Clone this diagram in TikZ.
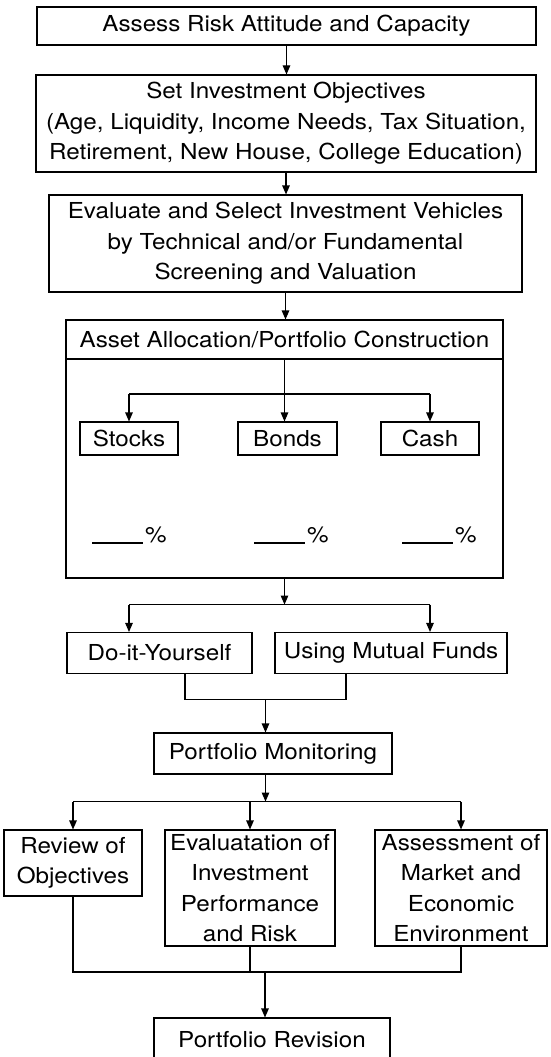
\documentclass[tikz,border=0pt]{standalone}
\usepackage{fontspec}
\setmainfont{TeX Gyre Heros}[FakeStretch=1.1]
\usetikzlibrary{arrows.meta}
\tikzset{>={Triangle[length=9pt,width=7.5pt]}}

\begin{document}
\begin{tikzpicture}[x=1pt,y=-1pt,
		box/.style = {draw, line width=1.1pt, inner sep=0pt, align=center,
			font=\fontsize{22}{30.5}\selectfont},
		link/.style = {line width=1.1pt}
	]
	\useasboundingbox (0,0) rectangle (550,1057);
	% planning steps
	\node[box, minimum width=499pt, minimum height=38pt] (risk) at (286.5,26) {Assess Risk Attitude and Capacity};
	\node[box, minimum width=500pt, minimum height=97pt] (goals) at (286,123.5)
		{Set Investment Objectives\\(Age, Liquidity, Income Needs, Tax Situation,\\Retirement, New House, College Education)};
	\node[box, minimum width=473pt, minimum height=97pt] (select) at (285.5,243.5)
		{Evaluate and Select Investment Vehicles\\by Technical and/or Fundamental\\Screening and Valuation};
	\draw[link,->] (risk.south) -- (risk.south |- goals.north);
	\draw[link,->] (goals.south) -- (goals.south |- select.north);
	% allocation
	\node[box, minimum width=437pt, minimum height=39pt] (alloc) at (284.5,339.5) {Asset Allocation/Portfolio Construction};
	\node[box, minimum width=437pt, minimum height=219pt] (allocbody) at (284.5,468.5) {};
	\draw[link,->] (select.south) -- (select.south |- alloc.north);
	\node[box, minimum width=98pt, minimum height=33pt] (stocks) at (129,438.5) {Stocks};
	\node[box, minimum width=99pt, minimum height=33pt] (bonds) at (287.5,438.5) {Bonds};
	\node[box, minimum width=98pt, minimum height=33pt] (cash) at (430,438.5) {Cash};
	\draw[link,->] (alloc.south) -- (alloc.south |- bonds.north);
	\coordinate (split1) at (284.5,394);
	\draw[link] (split1 -| stocks) -- (split1 -| cash);
	\foreach \n in {stocks,cash}
		\draw[link,->] (split1 -| \n) -- (\n.north);
	\foreach \x/\n in {92/a,254/b,402/c}
	{
		\draw[link] (\x,543) -- ++(51,0);
		\node[anchor=base west, inner sep=0pt, font=\fontsize{22}{25}\selectfont] (pct\n) at (\x+53,542) {\%};
	};
	% way of investing
	\node[box, minimum width=185pt, minimum height=41pt] (diy) at (159.5,653) {Do-it-Yourself};
	\node[box, minimum width=232pt, minimum height=41pt] (funds) at (391,653) {Using Mutual Funds};
	\draw[link,->] (allocbody.south) -- ++(0,26) coordinate (split2);
	\draw[link] (split2 -| stocks) -- (split2 -| cash);
	\draw[link,->] (split2 -| stocks) -- (diy.north -| stocks);
	\draw[link,->] (split2 -| cash) -- (funds.north -| cash);
	% monitoring
	\node[box, minimum width=238pt, minimum height=41pt] (monitor) at (273,753.5) {Portfolio Monitoring};
	\draw[link] ([xshift=25.5pt]diy.south) -- ++(0,25) -| coordinate[pos=0.25] (join1) ([xshift=-45pt]funds.south);
	\draw[link,->] (join1) -- (join1 |- monitor.north);
	\node[box, minimum width=138pt, minimum height=66pt] (review) at (73,863) {Review of\\Objectives};
	\node[box, minimum width=170pt, minimum height=116pt] (perf) at (250,888) {Evaluatation of\\Investment\\Performance\\and Risk};
	\node[box, minimum width=172pt, minimum height=116pt] (market) at (461,888) {Assessment of\\Market and\\Economic\\Environment};
	\draw[link,->] (join1 |- monitor.south) -- ++(0,27) coordinate (split3);
	\draw[link] (split3 -| review) -- (split3 -| market);
	\foreach \n in {review,perf,market}
		\draw[link,->] (split3 -| \n) -- (\n.north);
	% revision
	\node[box, minimum width=236pt, minimum height=44pt] (revise) at (272,1040) {Portfolio Revision};
	\coordinate (merge) at (265,972);
	\draw[link] (review.south) |- (merge -| market.south) -- (market.south);
	\draw[link] (perf.south) -- (perf.south |- merge);
	\draw[link,->] (merge) -- (merge |- revise.north);
\end{tikzpicture}
\end{document}
